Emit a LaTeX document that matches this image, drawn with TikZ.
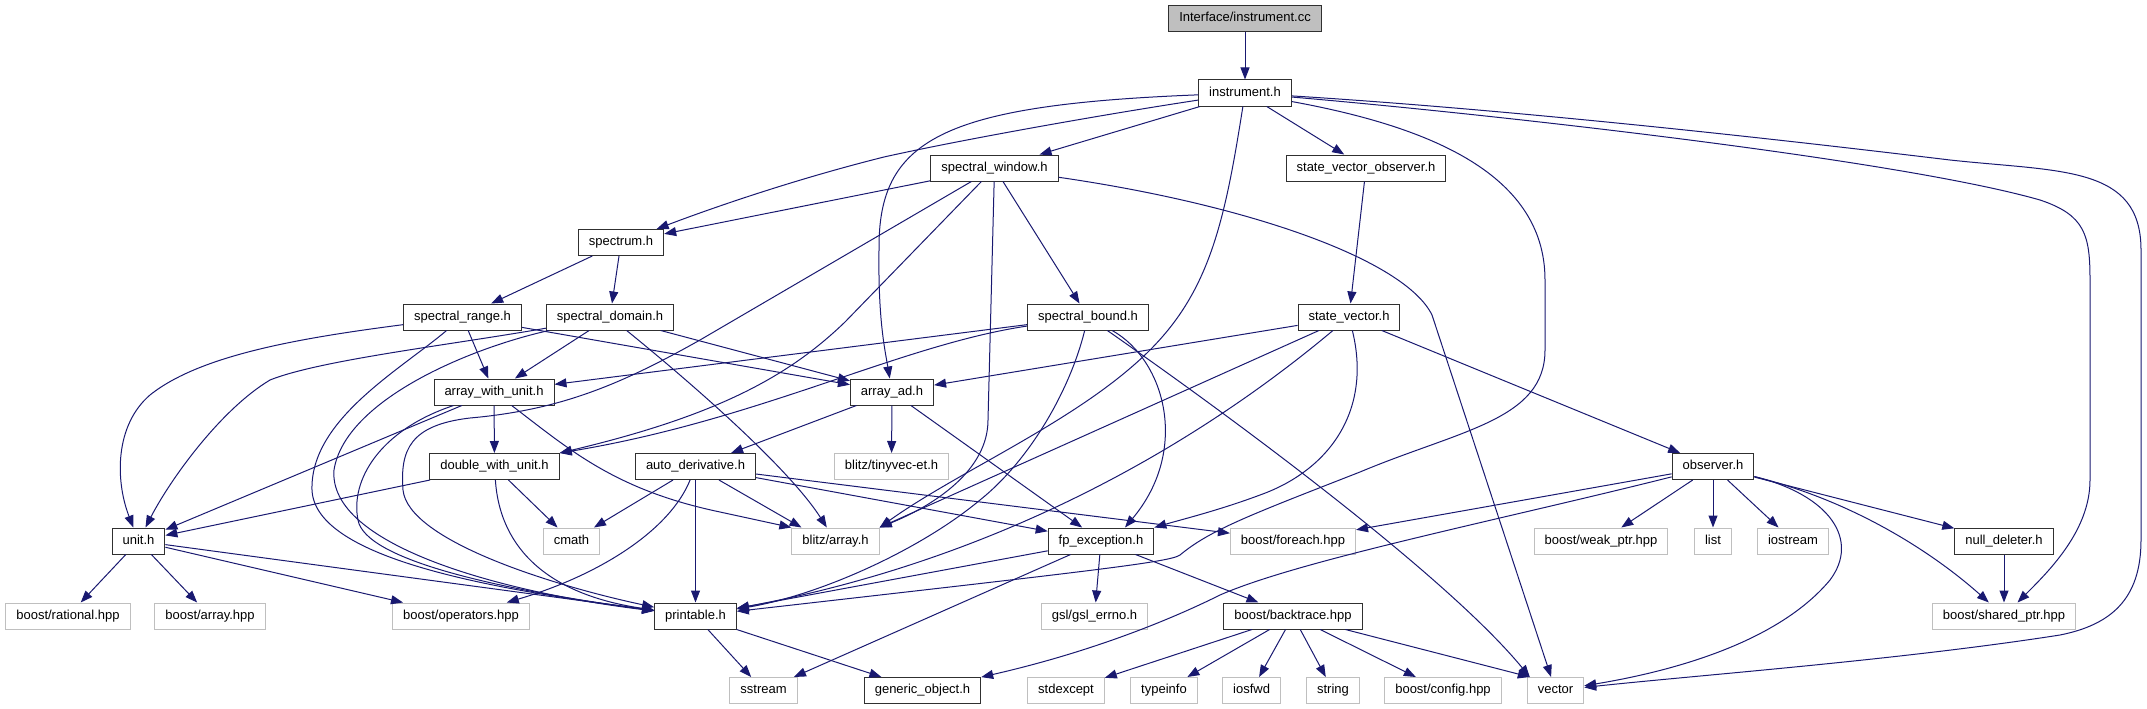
\documentclass[tikz,border=0pt]{standalone}
\usepackage{fontspec}
\usetikzlibrary{arrows.meta,calc}
\newfontfamily\dfont{Liberation Sans}
\definecolor{edgec}{HTML}{191970}
\definecolor{greyc}{HTML}{BFBFBF}
\definecolor{boxc}{HTML}{303030}
\tikzset{
  doc/.style={draw=boxc, line width=1pt, fill=white, font={\dfont\fontsize{13}{15}\selectfont},
    inner xsep=10.5pt, inner ysep=0pt, minimum height=26pt, text height=9.5pt, text depth=2.8pt},
  ext/.style={doc, draw=greyc},
  rootn/.style={doc, fill=greyc},
  dep/.style={draw=edgec, line width=1pt, -{Triangle[length=12pt,width=9pt]}}
}
\begin{document}
\begin{tikzpicture}[x=1pt,y=-1pt]
\useasboundingbox (0,0) rectangle (2147,709);
% nodes
\node[rootn] (root) at (1245,18.5) {Interface/instrument.cc};
\node[doc] (instr) at (1245,93) {instrument.h};
\node[doc] (swin) at (994.5,168) {spectral\_window.h};
\node[doc] (svo) at (1366,168) {state\_vector\_observer.h};
\node[doc] (spec) at (621,242.5) {spectrum.h};
\node[doc] (srange) at (462.5,317) {spectral\_range.h};
\node[doc] (sdom) at (610,317) {spectral\_domain.h};
\node[doc] (sbound) at (1088,317) {spectral\_bound.h};
\node[doc] (svec) at (1349,317) {state\_vector.h};
\node[doc] (awu) at (494,392) {array\_with\_unit.h};
\node[doc] (aad) at (892,392) {array\_ad.h};
\node[doc] (dwu) at (494.5,466.5) {double\_with\_unit.h};
\node[doc] (autod) at (695.5,466.5) {auto\_derivative.h};
\node[ext] (tinyvec) at (891.5,466.5) {blitz/tinyvec-et.h};
\node[doc] (obs) at (1713,466.5) {observer.h};
\node[doc] (unit) at (138.5,541) {unit.h};
\node[ext] (cmath) at (571.5,541) {cmath};
\node[ext] (blitz) at (835.5,541) {blitz/array.h};
\node[doc] (fpe) at (1101,541) {fp\_exception.h};
\node[ext] (foreach) at (1293,541) {boost/foreach.hpp};
\node[ext] (weak) at (1601,541) {boost/weak\_ptr.hpp};
\node[ext] (list) at (1713,541) {list};
\node[ext] (iostream) at (1793,541) {iostream};
\node[doc] (nulld) at (2004,541) {null\_deleter.h};
\node[ext] (rational) at (68,616) {boost/rational.hpp};
\node[ext] (barray) at (210,616) {boost/array.hpp};
\node[ext] (operators) at (461,616) {boost/operators.hpp};
\node[doc] (printable) at (695.5,616) {printable.h};
\node[ext] (errno) at (1094.5,616) {gsl/gsl\_errno.h};
\node[doc] (backtrace) at (1293,616) {boost/backtrace.hpp};
\node[ext] (shared) at (2004,616) {boost/shared\_ptr.hpp};
\node[ext] (sstream) at (763.5,690.5) {sstream};
\node[doc] (generic) at (922.5,690.5) {generic\_object.h};
\node[ext] (stdexcept) at (1066,690.5) {stdexcept};
\node[ext] (typeinfo) at (1164,690.5) {typeinfo};
\node[ext] (iosfwd) at (1251.6,690.5) {iosfwd};
\node[ext] (string) at (1333,690.5) {string};
\node[ext] (config) at (1443,690.5) {boost/config.hpp};
\node[ext] (vector) at (1555.5,690.5) {vector};
% edges
\draw[dep] (root) -- (instr);
% instrument.h
\draw[dep] (instr) .. controls (1100,115) and (960,140) .. (884,157) .. controls (800,178) and (720,205) .. (spec);
\draw[dep] (instr) .. controls (940,105) and (878,140) .. (879,250) .. controls (878,320) and (885,350) .. (aad);
\draw[dep] (instr) -- (swin);
\draw[dep] (instr) .. controls (1225,220) and (1210,290) .. (1150,350) .. controls (1080,420) and (960,470) .. (blitz.north east);
\draw[dep] (instr) -- (svo);
\draw[dep] (instr) .. controls (1420,125) and (1545,170) .. (1545,280) -- (1545,350) .. controls (1545,420) and (1460,430) .. (1360,472) .. controls (1250,515) and (1210,530) .. (1180,555) .. controls (1170,562) and (1100,570) .. (printable);
\draw[dep] (instr) .. controls (1500,115) and (1900,160) .. (2040,200) .. controls (2085,215) and (2090,235) .. (2090,280) -- (2090,480) .. controls (2090,530) and (2050,570) .. (shared);
\draw[dep] (instr) .. controls (1550,112) and (1850,148) .. (1950,160) .. controls (2060,172) and (2141,165) .. (2141,250) -- (2141,540) .. controls (2141,600) and (2110,625) .. (2060,635) .. controls (1900,660) and (1700,675) .. (vector);
% spectral_window.h
\draw[dep] (swin) -- (spec);
\draw[dep] (swin) -- (700,340) .. controls (620,385) and (560,410) .. (470,418) .. controls (410,425) and (400,450) .. (403,490) .. controls (408,540) and (550,585) .. (printable);
\draw[dep] (swin) -- (845,322) .. controls (790,375) and (720,415) .. (dwu.north east);
\draw[dep] (swin) -- (988,420) .. controls (988,470) and (935,505) .. (blitz.north east);
\draw[dep] (swin) -- (sbound);
\draw[dep] (swin) .. controls (1250,205) and (1405,260) .. (1432,315) -- (vector);
% spectrum.h
\draw[dep] (spec) -- (srange);
\draw[dep] (spec) -- (sdom);
% spectral_range.h
\draw[dep] (srange) .. controls (300,338) and (200,355) .. (150,395) .. controls (115,425) and (115,480) .. (unit);
\draw[dep] (srange) -- (awu);
\draw[dep] (srange) .. controls (400,370) and (310,420) .. (312,490) .. controls (315,560) and (500,590) .. (printable);
\draw[dep] (srange) -- (aad);
% spectral_domain.h
\draw[dep] (sdom) .. controls (450,345) and (320,360) .. (270,380) .. controls (220,410) and (170,480) .. (unit);
\draw[dep] (sdom) -- (awu);
\draw[dep] (sdom) .. controls (470,348) and (345,400) .. (334,470) .. controls (328,545) and (500,592) .. (printable);
\draw[dep] (sdom) .. controls (700,390) and (790,470) .. (blitz);
\draw[dep] (sdom) -- (aad);
% spectral_bound.h
\draw[dep] (sbound) -- (awu);
\draw[dep] (sbound) .. controls (900,345) and (760,420) .. (dwu.north east);
\draw[dep] (sbound) .. controls (1070,390) and (1030,460) .. (980,500) .. controls (920,550) and (820,595) .. (printable);
\draw[dep] (sbound) .. controls (1165,360) and (1190,450) .. ([xshift=24pt]fpe.north);
\draw[dep] (sbound) .. controls (1250,430) and (1450,580) .. ([xshift=3pt]vector.north west);
% state_vector_observer.h
\draw[dep] (svo) -- (svec);
% state_vector.h
\draw[dep] (svec) -- (aad);
\draw[dep] (svec) -- (blitz.north east);
\draw[dep] (svec) .. controls (1250,400) and (1050,550) .. (printable);
\draw[dep] (svec) .. controls (1372,410) and (1330,470) .. (1260,495) .. controls (1220,510) and (1180,520) .. (fpe.north east);
\draw[dep] (svec) -- (obs);
% array_with_unit.h
\draw[dep] (awu) -- (dwu);
\draw[dep] (awu) -- (unit);
\draw[dep] (awu) .. controls (380,430) and (350,480) .. (358,520) .. controls (365,560) and (500,590) .. (printable);
\draw[dep] (awu) .. controls (570,450) and (615,490) .. (720,512) -- (blitz.north west);
% double_with_unit.h
\draw[dep] (dwu) -- (unit);
\draw[dep] (dwu) -- (cmath);
\draw[dep] (dwu) .. controls (500,550) and (550,595) .. (printable);
% array_ad.h
\draw[dep] (aad) -- (autod);
\draw[dep] (aad) -- (tinyvec);
\draw[dep] (aad) -- (fpe);
% auto_derivative.h
\draw[dep] (autod) -- (cmath);
\draw[dep] (autod) .. controls (670,530) and (600,575) .. (operators);
\draw[dep] (autod) -- (printable);
\draw[dep] (autod) -- ([xshift=-34pt]blitz.north);
\draw[dep] (autod) -- (fpe);
\draw[dep] (autod) -- (foreach);
% unit.h
\draw[dep] (unit) -- (rational);
\draw[dep] (unit) -- (barray);
\draw[dep] (unit) -- (operators);
\draw[dep] (unit) -- (printable);
% fp_exception.h
\draw[dep] (fpe) -- (printable);
\draw[dep] (fpe) -- (sstream);
\draw[dep] (fpe) -- (errno);
\draw[dep] (fpe) -- (backtrace);
% printable.h
\draw[dep] (printable) -- (sstream);
\draw[dep] (printable) -- (generic);
% boost/backtrace.hpp
\draw[dep] (backtrace) -- (stdexcept);
\draw[dep] (backtrace) -- (typeinfo);
\draw[dep] (backtrace) -- (iosfwd);
\draw[dep] (backtrace) -- (string);
\draw[dep] (backtrace) -- (config);
\draw[dep] (backtrace) -- ([xshift=3pt]vector.north west);
% observer.h
\draw[dep] (obs) -- (weak);
\draw[dep] (obs) -- (list);
\draw[dep] (obs) -- (iostream);
\draw[dep] (obs) -- (nulld);
\draw[dep] (obs) .. controls (1850,500) and (1930,550) .. (shared);
\draw[dep] (obs) .. controls (1830,495) and (1860,540) .. (1830,580) .. controls (1780,640) and (1680,670) .. (vector);
\draw[dep] (obs) -- (foreach);
\draw[dep] (obs) .. controls (1500,520) and (1300,560) .. (1220,595) .. controls (1180,615) and (1100,650) .. (generic);
% null_deleter.h
\draw[dep] (nulld) -- (shared);
\end{tikzpicture}
\end{document}
